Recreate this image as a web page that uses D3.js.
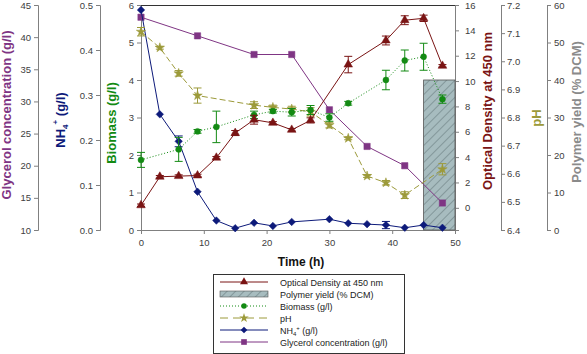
<!DOCTYPE html>
<html><head><meta charset="utf-8">
<script src="https://cdn.jsdelivr.net/npm/d3@7"></script>
<style>
body{margin:0;background:#fff;}
svg{display:block;font-family:"Liberation Sans",Arial,sans-serif;}
.axis path,.axis line{stroke:#808080;}
.axis text{fill:#404040;font-size:9.5px;font-family:"Liberation Sans",Arial,sans-serif;}
</style></head>
<body>
<script>
// ---- data ----
const timeOD  = [0,3,6,9,12,15,18,21,24,27,33,39,42,45,48];
const od      = [0.2,2.45,2.5,2.55,3.95,5.9,6.95,6.7,6.15,6.9,11.3,13.2,14.8,14.95,11.2];
const odErr   = [0.1,0.1,0.1,0.1,0.1,0.2,0.35,0.1,0.1,0.2,0.65,0.35,0.35,0.25,0.1];

const timeBio = [0,6,9,12,18,21,24,27,30,33,39,42,45,48];
const bio     = [1.87,2.15,2.63,2.75,3.07,3.17,3.14,3.2,3.0,3.38,4.0,4.52,4.62,3.49];
const bioErr  = [0.2,0.32,0.05,0.42,0.1,0.05,0.1,0.12,0.1,0.05,0.26,0.28,0.36,0.11];

const timePH  = [0,3,6,9,18,21,24,27,30,33,36,39,42,48];
const ph      = [7.105,7.048,6.957,6.878,6.844,6.836,6.83,6.82,6.773,6.726,6.592,6.568,6.524,6.616];
const phErr   = [0.015,0.005,0.01,0.027,0.012,0.008,0.01,0.015,0.01,0.005,0.005,0.008,0.012,0.02];

const timeNH4 = [0,3,6,9,12,15,18,21,24,30,33,36,39,42,45,48];
const nh4     = [0.489,0.257,0.197,0.085,0.021,0.004,0.016,0.009,0.018,0.024,0.015,0.013,0.011,0.005,0.011,0.005];
const nh4Err  = [0,0,0.012,0,0,0,0,0,0,0,0,0,0.008,0,0,0];

const timeGly = [0,9,18,24,30,36,42,48];
const gly     = [43.1,40.2,37.3,37.3,28.7,23.0,20.0,14.2];

const polyRange = [45,50];
const polyYield = [40];

const xTicks   = [0,10,20,30,40,50];
const bioTicks = [0,1,2,3,4,5,6];
const nh4Ticks = [0,0.1,0.2,0.3,0.4,0.5];
const glyTicks = [10,15,20,25,30,35,40,45];
const odTicks  = [0,2,4,6,8,10,12,14,16];
const phTicks  = [6.4,6.5,6.6,6.7,6.8,6.9,7.0,7.1,7.2];
const polyTicks= [0,10,20,30,40,50,60];

const legendLabels = ["Optical Density at 450 nm","Polymer yield (% DCM)","Biomass (g/l)","pH","NH4+ (g/l)","Glycerol concentration (g/l)"];

// ---- colours ----
const cOD="#7a1414", cBio="#138a13", cPH="#9c9a3a", cNH4="#0d1a7a", cGly="#7f3584", cPoly="#8a8a8a";

const W=587,H=354, pTop=5, pBottom=230, pLeft=141, pRight=455;
const svg=d3.select("body").append("svg").attr("width",W).attr("height",H);

const x=d3.scaleLinear([0,50],[pLeft,pRight]);
const yBio=d3.scaleLinear([0,6],[pBottom,pTop]);
const yNH4=d3.scaleLinear([0,0.5],[pBottom,pTop]);
const yGly=d3.scaleLinear([10,45],[pBottom,pTop]);
const yOD=d3.scaleLinear([-1.75,16],[pBottom,pTop]);
const yPH=d3.scaleLinear([6.4,7.2],[pBottom,pTop]);
const yPoly=d3.scaleLinear([0,60],[pBottom,pTop]);

// hatch pattern
const defs=svg.append("defs");
const pat=defs.append("pattern").attr("id","hatch").attr("patternUnits","userSpaceOnUse")
  .attr("width",6).attr("height",6).attr("patternTransform","rotate(45)");
pat.append("rect").attr("width",6).attr("height",6).attr("fill","#a7bcbf");
pat.append("line").attr("x1",0).attr("y1",0).attr("x2",0).attr("y2",6).attr("stroke","#5f7275").attr("stroke-width",1);

// axes
function axis(gen,tx,fmt,ticks,pad){
  return svg.append("g").attr("class","axis").attr("transform",tx)
    .call(gen.tickValues(ticks).tickFormat(fmt).tickSizeOuter(0).tickSize(4).tickPadding(pad||3));
}
axis(d3.axisBottom(x),`translate(0,${pBottom})`,d3.format("d"),xTicks,5);
axis(d3.axisLeft(yBio),`translate(${pLeft},0)`,d3.format("d"),bioTicks);
axis(d3.axisLeft(yNH4),`translate(100,0)`,d3.format(".1f"),nh4Ticks);
axis(d3.axisLeft(yGly),`translate(38,0)`,d3.format("d"),glyTicks);
axis(d3.axisRight(yOD),`translate(${pRight},0)`,d3.format("d"),odTicks,6);
axis(d3.axisRight(yPH),`translate(501,0)`,d3.format(".1f"),phTicks,2);
axis(d3.axisRight(yPoly),`translate(547,0)`,d3.format("d"),polyTicks,3);
// top border
svg.append("line").attr("x1",pLeft).attr("x2",pRight).attr("y1",pTop+0.5).attr("y2",pTop+0.5).attr("stroke","#333");

// axis titles
function vtitle(txt,cx,cy,col,size){
  return svg.append("text").attr("transform",`translate(${cx},${cy}) rotate(-90)`)
    .attr("text-anchor","middle").attr("dominant-baseline","middle")
    .attr("font-weight","bold").attr("font-size",size||13).attr("fill",col).text(txt);
}
vtitle("Glycerol concentration (g/l)",8,115,cGly);
const nt=vtitle("",62,120,cNH4);
nt.append("tspan").text("NH");
nt.append("tspan").attr("font-size",8).attr("dy",4).text("4");
nt.append("tspan").attr("font-size",8).attr("dy",-10).text("+");
nt.append("tspan").attr("dy",6).text(" (g/l)");
vtitle("Biomass (g/l)",113,123,cBio);
vtitle("Optical Density at 450 nm",489,111,cOD);
vtitle("pH",538,118,cPH);
vtitle("Polymer yield (% DCM)",578,112,cPoly);
svg.append("text").attr("x",301).attr("y",266).attr("text-anchor","middle")
  .attr("font-weight","bold").attr("font-size",12).attr("fill","#111").text("Time (h)");

// polymer bar
svg.append("rect").attr("x",x(polyRange[0])).attr("width",x(polyRange[1])-x(polyRange[0]))
  .attr("y",yPoly(polyYield[0])).attr("height",yPoly(0)-yPoly(polyYield[0]))
  .attr("fill","url(#hatch)").attr("stroke","#555").attr("stroke-width",0.8);

// series
function series(ts,vs,errs,ys,col,dash,sym,size,rot){
  const g=svg.append("g");
  const pts=ts.map((t,i)=>[x(t),ys(vs[i])]);
  g.append("path").attr("d",d3.line()(pts)).attr("fill","none").attr("stroke",col)
    .attr("stroke-width",1).attr("stroke-dasharray",dash||null);
  if(errs){
    ts.forEach((t,i)=>{
      if(!errs[i])return;
      const cx=x(t),y1=ys(vs[i]-errs[i]),y2=ys(vs[i]+errs[i]);
      g.append("path").attr("d",`M${cx},${y1}V${y2}M${cx-4},${y1}H${cx+4}M${cx-4},${y2}H${cx+4}`)
        .attr("stroke",col).attr("stroke-width",1).attr("fill","none");
    });
  }
  ts.forEach((t,i)=>{
    g.append("path").attr("d",d3.symbol(sym,size)())
      .attr("transform",`translate(${x(t)},${ys(vs[i])})${rot?" rotate("+rot+")":""}`)
      .attr("fill",col).attr("stroke",col).attr("stroke-width",0.5);
  });
}
series(timeGly,gly,null,yGly,cGly,null,d3.symbolSquare,40);
series(timeNH4,nh4,nh4Err,yNH4,cNH4,null,d3.symbolSquare,28,45);
series(timePH,ph,phErr,yPH,cPH,"6,3",d3.symbolStar,28);
series(timeBio,bio,bioErr,yBio,cBio,"1,2",d3.symbolCircle,28);
series(timeOD,od,odErr,yOD,cOD,null,d3.symbolTriangle,32);

// legend
const lg=svg.append("g");
lg.append("rect").attr("x",213.5).attr("y",274.5).attr("width",191).attr("height",79)
  .attr("fill","#fff").attr("stroke","#333").attr("stroke-width",1);
const lspec=[
 {col:cOD,sym:d3.symbolTriangle,size:28,dash:null},
 {bar:true},
 {col:cBio,sym:d3.symbolCircle,size:24,dash:"1,2"},
 {col:cPH,sym:d3.symbolStar,size:28,dash:"8,5"},
 {col:cNH4,sym:d3.symbolSquare,size:22,dash:null,rot:45},
 {col:cGly,sym:d3.symbolSquare,size:32,dash:null}
];
legendLabels.forEach((lab,i)=>{
  const cy=282+i*12, s=lspec[i];
  if(s.bar){
    lg.append("rect").attr("x",220).attr("y",cy-3).attr("width",48).attr("height",6)
      .attr("fill","url(#hatch)").attr("stroke","#555").attr("stroke-width",0.6);
  } else {
    lg.append("line").attr("x1",220).attr("x2",268).attr("y1",cy).attr("y2",cy)
      .attr("stroke",s.col).attr("stroke-dasharray",s.dash);
    lg.append("path").attr("d",d3.symbol(s.sym,s.size)())
      .attr("transform",`translate(244,${cy})${s.rot?" rotate("+s.rot+")":""}`).attr("fill",s.col);
  }
  const t=lg.append("text").attr("x",280).attr("y",cy+3.5).attr("font-size",9).attr("fill","#222");
  if(i===4){
    t.append("tspan").text("NH");
    t.append("tspan").attr("font-size",6).attr("dy",2).text("4");
    t.append("tspan").attr("font-size",6).attr("dy",-6).text("+");
    t.append("tspan").attr("dy",4).text(" (g/l)");
  } else t.text(lab);
});
</script>
</body></html>
